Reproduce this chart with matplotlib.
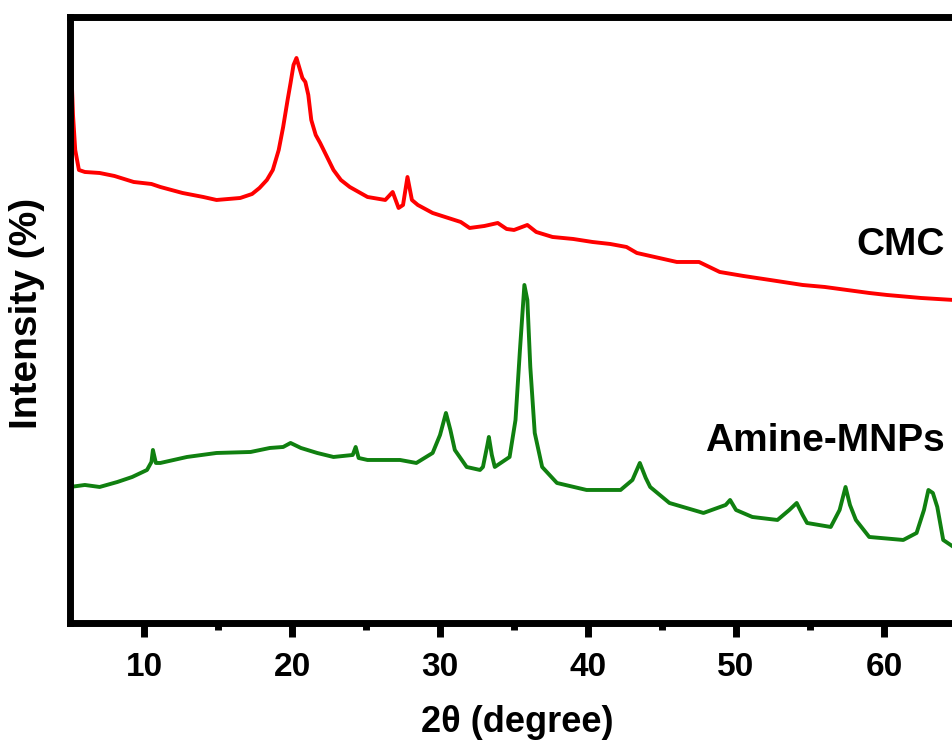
import matplotlib
matplotlib.use('Agg')
import matplotlib.pyplot as plt

plt.rcParams['font.family'] = ['Liberation Sans', 'DejaVu Sans']
plt.rcParams['font.weight'] = 'bold'

# CMC pattern (2theta, intensity a.u.)
cmc_2theta = [5.0, 5.1, 5.2, 5.35, 5.6, 6.0, 7.0, 8.0, 9.3, 10.5, 11.1, 12.6, 14.0, 14.9,
              16.5, 17.3, 17.8, 18.3, 18.7, 19.1, 19.4, 19.7, 19.9, 20.1, 20.3, 20.5, 20.7,
              20.9, 21.1, 21.3, 21.6, 21.9, 22.3, 22.8, 23.3, 23.9, 25.1, 26.3, 26.8, 27.2,
              27.5, 27.8, 28.1, 28.5, 29.5, 31.4, 32.0, 33.0, 33.9, 34.5, 35.0, 35.9, 36.5,
              37.6, 39.0, 40.3, 41.5, 42.6, 43.3, 44.5, 46.0, 47.5, 48.9, 50.5, 52.3, 54.5,
              56.0, 57.5, 59.0, 60.2, 62.5, 64.7, 66.0]
cmc_int = [593, 548, 508, 473, 453, 451, 450, 447, 441, 439, 436, 430, 426, 423,
           425, 429, 435, 443, 453, 473, 496, 523, 540, 558, 565, 555, 545,
           541, 528, 503, 488, 480, 468, 453, 443, 436, 426, 423, 431, 415,
           418, 446, 423, 418, 410, 401, 395, 397, 400, 394, 393, 398, 391,
           386, 384, 381, 379, 376, 370, 366, 361, 361, 351, 347, 343, 338,
           336, 333, 330, 328, 325, 323, 321]

# Amine-MNPs pattern
mnp_2theta = [5.0, 6.0, 7.0, 8.2, 9.2, 10.2, 10.5, 10.6, 10.8, 11.1, 12.0, 12.9, 14.9,
              17.2, 18.5, 19.4, 19.9, 20.6, 21.7, 22.8, 24.1, 24.3, 24.5, 25.1, 27.3,
              28.4, 29.5, 30.0, 30.4, 30.7, 31.0, 31.8, 32.7, 32.9, 33.2, 33.3, 33.5,
              33.7, 34.7, 35.1, 35.4, 35.7, 35.9, 36.1, 36.4, 36.9, 37.9, 39.9, 42.2,
              43.0, 43.5, 43.9, 44.2, 45.5, 47.8, 49.3, 49.6, 50.0, 51.1, 52.8, 53.6,
              54.1, 54.5, 54.8, 56.4, 57.0, 57.4, 57.7, 58.1, 59.0, 61.3, 62.2, 62.7,
              63.0, 63.3, 63.6, 64.0, 64.7, 66.0]
mnp_int = [136, 138, 136, 141, 146, 153, 161, 173, 160, 160, 163, 166, 170,
           171, 175, 176, 180, 175, 170, 166, 168, 176, 165, 163, 163,
           160, 170, 188, 210, 193, 173, 156, 153, 156, 178, 186, 168,
           156, 166, 203, 273, 338, 323, 256, 190, 156, 140, 133, 133,
           143, 160, 145, 136, 120, 110, 118, 123, 113, 106, 103, 113,
           120, 108, 100, 96, 113, 136, 118, 103, 86, 83, 90, 113,
           133, 130, 116, 83, 76, 78]

major_ticks = [10, 20, 30, 40, 50, 60]
minor_ticks = [15, 25, 35, 45, 55]

fig = plt.figure(figsize=(9.53, 7.45), dpi=100)
ax = fig.add_axes([0.0735, 0.1638, 1.0094, 0.8134])

ax.plot(cmc_2theta, cmc_int, color='#ff0000', lw=2.8)
ax.plot(mnp_2theta, mnp_int, color='#108010', lw=2.8)

ax.set_xlim(5, 70)
ax.set_ylim(0, 606)
ax.set_yticks([])
ax.set_xticks(major_ticks)
ax.set_xticks(minor_ticks, minor=True)
ax.tick_params(axis='x', which='major', direction='out', length=10, width=5,
               labelsize=24, pad=11)
ax.tick_params(axis='x', which='minor', direction='out', length=5, width=5)
for lab in ax.get_xticklabels():
    lab.set_fontweight('bold')
for sp in ax.spines.values():
    sp.set_linewidth(5)

ax.text(64.1, 378, 'CMC', fontsize=28, fontweight='bold', ha='right', va='center')
ax.text(64.1, 182, 'Amine-MNPs', fontsize=28, fontweight='bold', ha='right', va='center')

fig.text(517 / 953, 1 - 722 / 745, '2θ (degree)', fontsize=26, fontweight='bold',
         ha='center', va='center')
fig.text(27 / 953, 1 - 313 / 745, 'Intensity (%)', fontsize=28, fontweight='bold',
         rotation=90, ha='center', va='center')

fig.savefig('out.png', dpi=100, facecolor='white')
